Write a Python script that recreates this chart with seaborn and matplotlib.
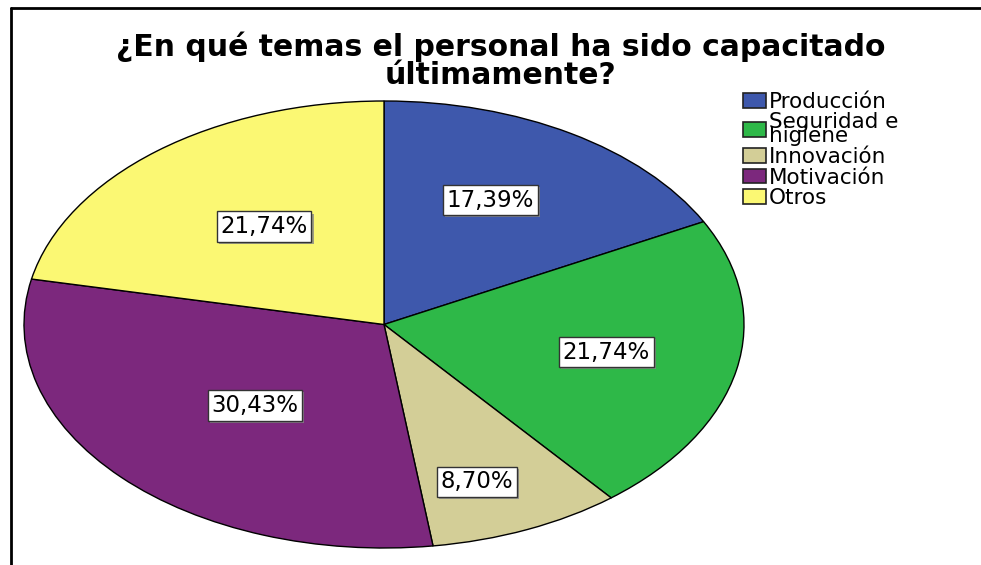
import numpy as np
import matplotlib
matplotlib.use("Agg")
import matplotlib.pyplot as plt
import matplotlib.patheffects as pe
from matplotlib.lines import Line2D
import seaborn as sns

# datos (n = 23)
categorias = ["Producción", "Seguridad e\nhigiene", "Innovación", "Motivación", "Otros"]
frecuencias = [4, 5, 2, 7, 5]
colores = ["#3E58AC", "#2EB848", "#D3CE97", "#7C287D", "#FBF873"]
titulo = "¿En qué temas el personal ha sido capacitado\núltimamente?"

# ubicación de cada etiqueta (estilo): distancia radial y ajuste angular
dist_etiqueta = [0.63, 0.63, 0.75, 0.51, 0.55]
giro_etiqueta = [3.3, 0.4, -3.4, 2.2, -1.9]

sns.set_style("white")
plt.rcParams["font.family"] = ["DejaVu Sans"]
plt.rcParams["text.color"] = "black"

fig = plt.figure(figsize=(9.81, 5.65), dpi=100)
fig.patch.set_facecolor("white")

# eje del pastel (elíptico como en el original)
ax = fig.add_axes([24 / 981, 17 / 565, 720 / 981, 447 / 565])
wedges, _ = ax.pie(frecuencias, colors=colores, startangle=90, counterclock=False,
                   wedgeprops=dict(edgecolor="black", linewidth=1))
ax.set_aspect("auto")
ax.set_xlim(-1, 1)
ax.set_ylim(-1, 1)
ax.axis("off")

total = sum(frecuencias)
for w, f, r, g in zip(wedges, frecuencias, dist_etiqueta, giro_etiqueta):
    ang = np.deg2rad((w.theta1 + w.theta2) / 2 + g)
    pct = f"{100 * f / total:.2f}%".replace(".", ",")
    t = ax.text(r * np.cos(ang), r * np.sin(ang), pct, ha="center", va="center",
                fontsize=16.5, color="black",
                bbox=dict(boxstyle="square,pad=0.16", facecolor="white",
                          edgecolor="#333333", linewidth=1))
    t.get_bbox_patch().set_path_effects(
        [pe.SimplePatchShadow(offset=(1.5, -1.5), shadow_rgbFace="#888888", alpha=0.8),
         pe.Normal()])

# título
fig.text(0.51, 1 - 31 / 565, titulo, ha="center", va="top", fontsize=21.5,
         fontweight="bold", linespacing=0.97, color="black")

# leyenda
leg = fig.legend(wedges, categorias, loc="upper left",
                 bbox_to_anchor=(732 / 981, 1 - 81 / 565), frameon=False,
                 fontsize=15.5, handlelength=1.1, handleheight=0.68,
                 handletextpad=0.12, labelspacing=0.03, borderpad=0,
                 labelcolor="black")
for h in leg.legend_handles:
    h.set_edgecolor("#222222")
    h.set_linewidth(1.2)
for t in leg.get_texts():
    t.set_linespacing(0.62)

# marco
fig.add_artist(Line2D([11 / 981, 1], [1 - 8 / 565, 1 - 8 / 565],
                      transform=fig.transFigure, color="black", linewidth=2))
fig.add_artist(Line2D([11 / 981, 11 / 981], [0, 1 - 8 / 565],
                      transform=fig.transFigure, color="black", linewidth=2))

fig.savefig("out.png", dpi=100)
